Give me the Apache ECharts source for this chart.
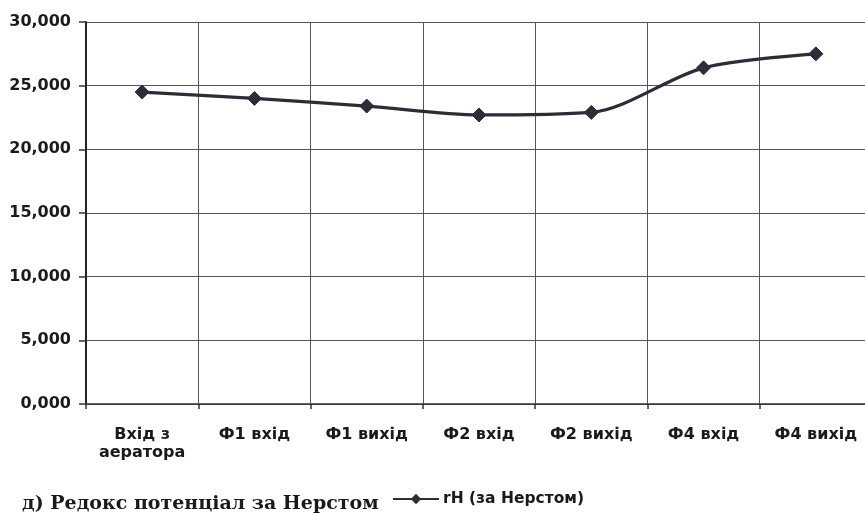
<!DOCTYPE html>
<html>
<head>
<meta charset="utf-8">
<script src="https://cdn.jsdelivr.net/npm/echarts@6/dist/echarts.min.js"></script>
<style>html,body{margin:0;padding:0;background:#fff}#c{width:865px;height:514px}</style>
</head>
<body>
<div id="c"></div>
<script>
const categories = ['Вхід з\nаератора', 'Ф1 вхід', 'Ф1 вихід', 'Ф2 вхід', 'Ф2 вихід', 'Ф4 вхід', 'Ф4 вихід'];
const seriesName = 'rH (за Нерстом)';
const rhValues = [24.5, 24.0, 23.4, 22.7, 22.9, 26.4, 27.5];
const yTicks = [0, 5, 10, 15, 20, 25, 30];
const caption = 'д) Редокс потенціал за Нерстом';

const chart = echarts.init(document.getElementById('c'));
const lineColor = '#2d2d38';
const sans = 'DejaVu Sans';
chart.setOption({
  animation: false,
  backgroundColor: '#fff',
  grid: { left: 86, top: 22, right: -7, bottom: 110, containLabel: false, outerBoundsMode: 'none' },
  xAxis: {
    type: 'category',
    data: categories,
    boundaryGap: true,
    axisLine: { lineStyle: { color: '#333', width: 1.5 } },
    axisTick: { show: true, length: 5, inside: false, lineStyle: { color: '#333', width: 1.5 } },
    axisLabel: { margin: 22, color: '#1a1a1a', fontFamily: sans, fontWeight: 'bold', fontSize: 16, lineHeight: 18, interval: 0 },
    splitLine: { show: true, interval: 0, lineStyle: { color: '#555', width: 1 } }
  },
  yAxis: {
    type: 'value',
    min: yTicks[0],
    max: yTicks[yTicks.length - 1],
    interval: yTicks[1] - yTicks[0],
    axisLine: { show: true, lineStyle: { color: '#222', width: 2 } },
    axisTick: { show: true, length: 7, lineStyle: { color: '#333', width: 1.5 } },
    axisLabel: {
      margin: 15, color: '#1a1a1a', fontFamily: sans, fontWeight: 'bold', fontSize: 16,
      formatter: v => v.toFixed(3).replace('.', ',')
    },
    splitLine: { show: true, lineStyle: { color: '#555', width: 1 } }
  },
  legend: {
    left: 392, top: 491, padding: 0,
    itemWidth: 46, itemHeight: 13, itemGap: 4,
    data: [seriesName],
    textStyle: { color: '#1a1a1a', fontFamily: sans, fontWeight: 'bold', fontSize: 15.5, padding: [0, 0, 0, -1] }
  },
  graphic: [{
    type: 'text', left: 22, top: 495,
    style: { text: caption, fill: '#1a1a1a', font: 'bold 19px "DejaVu Serif"' }
  }],
  series: [{
    name: seriesName,
    type: 'line',
    data: rhValues,
    smooth: 0.3,
    symbol: 'diamond',
    symbolSize: 14,
    lineStyle: { color: lineColor, width: 3.2 },
    itemStyle: { color: lineColor, borderColor: lineColor },
    emphasis: { disabled: true }
  }]
});
</script>
</body>
</html>
